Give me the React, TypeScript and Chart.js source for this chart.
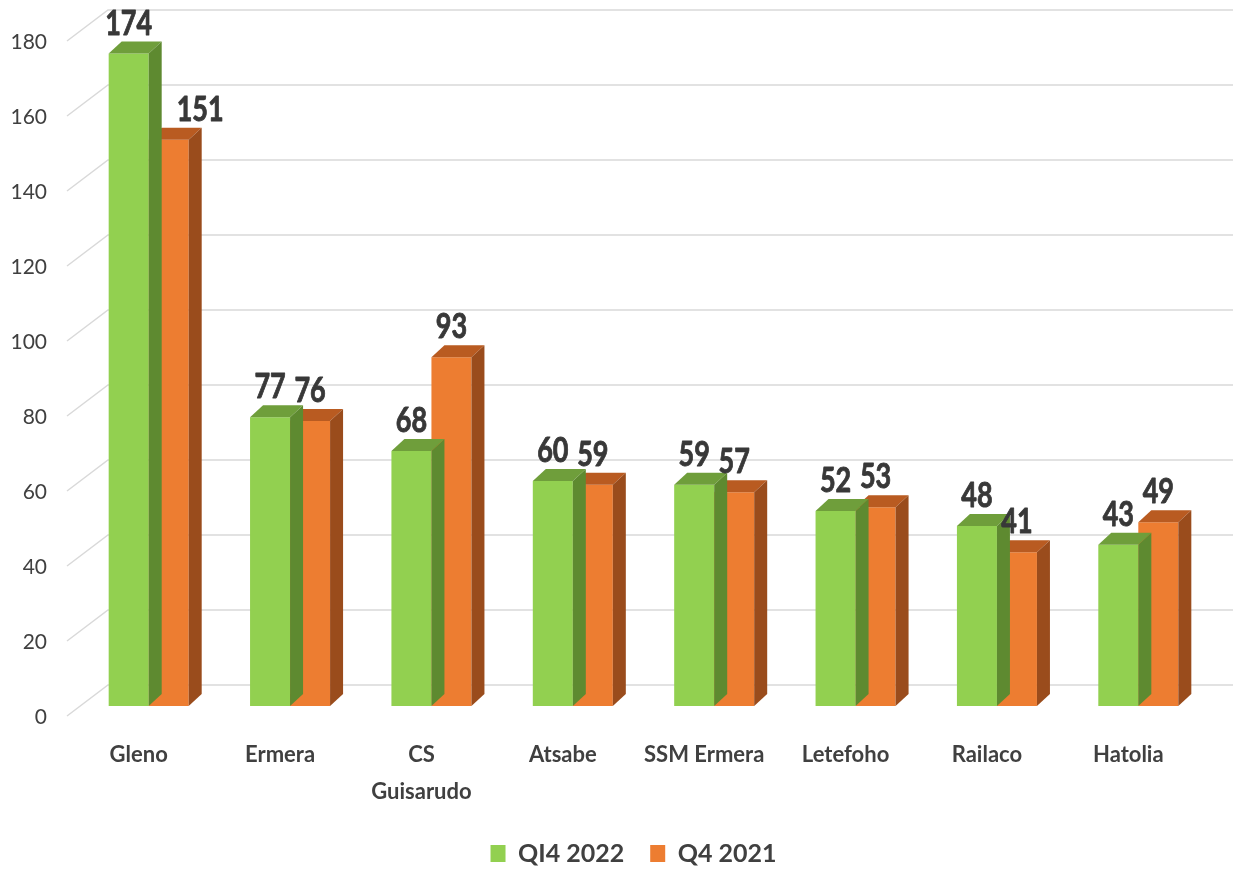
import React, { useEffect, useRef } from "react";
import { Chart, registerables } from "chart.js";

Chart.register(...registerables);

const categories: string[][] = [
  ["Gleno"],
  ["Ermera"],
  ["CS", "Guisarudo"],
  ["Atsabe"],
  ["SSM Ermera"],
  ["Letefoho"],
  ["Railaco"],
  ["Hatolia"],
];
const seriesNames = ["QI4 2022", "Q4 2021"];
const qi4_2022 = [174, 77, 68, 60, 59, 52, 48, 43];
const q4_2021 = [151, 76, 93, 59, 57, 53, 41, 49];
const yTicks = [0, 20, 40, 60, 80, 100, 120, 140, 160, 180];

const frontColors = ["#92D050", "#ED7D31"];
const topColors = ["#6F9E3B", "#B95B21"];
const sideColors = ["#5E8A30", "#9A4C1C"];

const DX = 13;
const DY = -12;
const FONT = "Lato, 'Open Sans', sans-serif";
const LABEL_SIZE = 27;
const LABEL_STRETCH = 1.25;

const bar3d = {
  id: "bar3d",
  beforeLayout(chart: any) {
    const lg = chart.legend;
    if (lg && !lg._patched) {
      const f = lg.fit.bind(lg);
      lg.fit = function () {
        f();
        this.height = 58;
      };
      lg._patched = true;
    }
  },
  afterLayout(chart: any) {
    if (chart.legend) chart.legend.left = 58;
  },
  beforeDatasetsDraw(chart: any) {
    const { ctx, chartArea } = chart;
    const y = chart.scales.y;
    ctx.save();
    ctx.strokeStyle = "#D9D9D9";
    ctx.lineWidth = 1.5;
    yTicks.forEach((v) => {
      const py = y.getPixelForValue(v);
      ctx.beginPath();
      ctx.moveTo(chartArea.left - 11, py + 10);
      ctx.lineTo(chartArea.left + 30, py - 21);
      ctx.lineTo(chart.width, py - 21);
      ctx.stroke();
    });
    ctx.restore();
  },
  afterDatasetDraw(chart: any, args: any) {
    const { ctx } = chart;
    const idx = args.index;
    ctx.save();
    args.meta.data.forEach((bar: any) => {
      const { x, y, base, width } = bar.getProps(["x", "y", "base", "width"], true);
      const l = x - width / 2;
      const r = x + width / 2;
      ctx.fillStyle = topColors[idx];
      ctx.beginPath();
      ctx.moveTo(l, y);
      ctx.lineTo(r, y);
      ctx.lineTo(r + DX, y + DY);
      ctx.lineTo(l + DX, y + DY);
      ctx.closePath();
      ctx.fill();
      ctx.fillStyle = sideColors[idx];
      ctx.beginPath();
      ctx.moveTo(r, y);
      ctx.lineTo(r + DX, y + DY);
      ctx.lineTo(r + DX, base + DY);
      ctx.lineTo(r, base);
      ctx.closePath();
      ctx.fill();
    });
    ctx.restore();
  },
  afterDatasetsDraw(chart: any) {
    const { ctx } = chart;
    ctx.save();
    ctx.fillStyle = "#383838";
    ctx.strokeStyle = "#383838";
    ctx.lineWidth = 0.7;
    ctx.lineJoin = "round";
    ctx.font = `bold ${LABEL_SIZE}px ${FONT}`;
    ctx.textAlign = "center";
    ctx.textBaseline = "alphabetic";
    const metas = chart.data.datasets.map((_: any, i: number) => chart.getDatasetMeta(i));
    chart.data.datasets.forEach((ds: any, i: number) => {
      metas[i].data.forEach((bar: any, j: number) => {
        const { x, y, width } = bar.getProps(["x", "y", "width"], true);
        const text = String(ds.data[j]);
        const tw = ctx.measureText(text).width;
        const baseY = y - 19;
        const labelTop = baseY - LABEL_SIZE * 0.72 * LABEL_STRETCH;
        let cx = x;
        if (i > 0) {
          const prev = metas[i - 1].data[j].getProps(["x", "y", "width"], true);
          if (prev.y + DY < labelTop) {
            const sideRight = prev.x + prev.width / 2 + DX;
            cx = Math.max(x, sideRight + 15 + tw / 2);
          }
        }
        ctx.save();
        ctx.translate(cx, baseY);
        ctx.scale(1, LABEL_STRETCH);
        ctx.fillText(text, 0, 0);
        ctx.strokeText(text, 0, 0);
        ctx.restore();
      });
    });
    ctx.restore();
  },
};

export default function App() {
  const ref = useRef<HTMLCanvasElement | null>(null);
  useEffect(() => {
    if (!ref.current) return;
    const chart = new Chart(ref.current, {
      type: "bar",
      data: {
        labels: categories,
        datasets: [
          {
            label: seriesNames[0],
            data: qi4_2022,
            backgroundColor: frontColors[0],
            borderWidth: 0,
            categoryPercentage: 0.566,
            barPercentage: 1,
          },
          {
            label: seriesNames[1],
            data: q4_2021,
            backgroundColor: frontColors[1],
            borderWidth: 0,
            categoryPercentage: 0.566,
            barPercentage: 1,
          },
        ],
      },
      options: {
        responsive: false,
        animation: false,
        devicePixelRatio: 1,
        layout: { padding: { top: 31, left: 0, right: 24, bottom: 0 } },
        plugins: {
          tooltip: { enabled: false },
          legend: {
            position: "bottom",
            labels: {
              boxWidth: 15,
              boxHeight: 17,
              padding: 26,
              color: "#404040",
              font: { family: FONT, size: 25, weight: "bold" },
            },
          },
        },
        scales: {
          x: {
            grid: { display: false, drawTicks: false },
            border: { display: false },
            ticks: {
              color: "#404040",
              font: { family: FONT, size: 22, weight: "bold", lineHeight: 1.68 },
              padding: 30,
              labelOffset: -10,
              maxRotation: 0,
              autoSkip: false,
            },
            afterFit: (scale: any) => {
              scale.height = 109;
              scale.paddingLeft = 0;
              scale.paddingRight = 0;
            },
          },
          y: {
            min: 0,
            max: 180,
            grid: { display: false, drawTicks: false },
            border: { display: false },
            ticks: {
              color: "#404040",
              font: { family: FONT, size: 21 },
              padding: 31,
              labelOffset: 11,
            },
            afterBuildTicks: (scale: any) => {
              scale.ticks = yTicks.map((v) => ({ value: v }));
            },
            afterFit: (scale: any) => {
              scale.width = 78;
              scale.paddingTop = 0;
              scale.paddingBottom = 0;
            },
          },
        },
      },
      plugins: [bar3d],
    } as any);
    return () => chart.destroy();
  }, []);
  return (
    <div style={{ position: "absolute", left: 0, top: 0, width: 1233, height: 873 }}>
      <canvas ref={ref} width={1233} height={873} style={{ display: "block" }} />
    </div>
  );
}
